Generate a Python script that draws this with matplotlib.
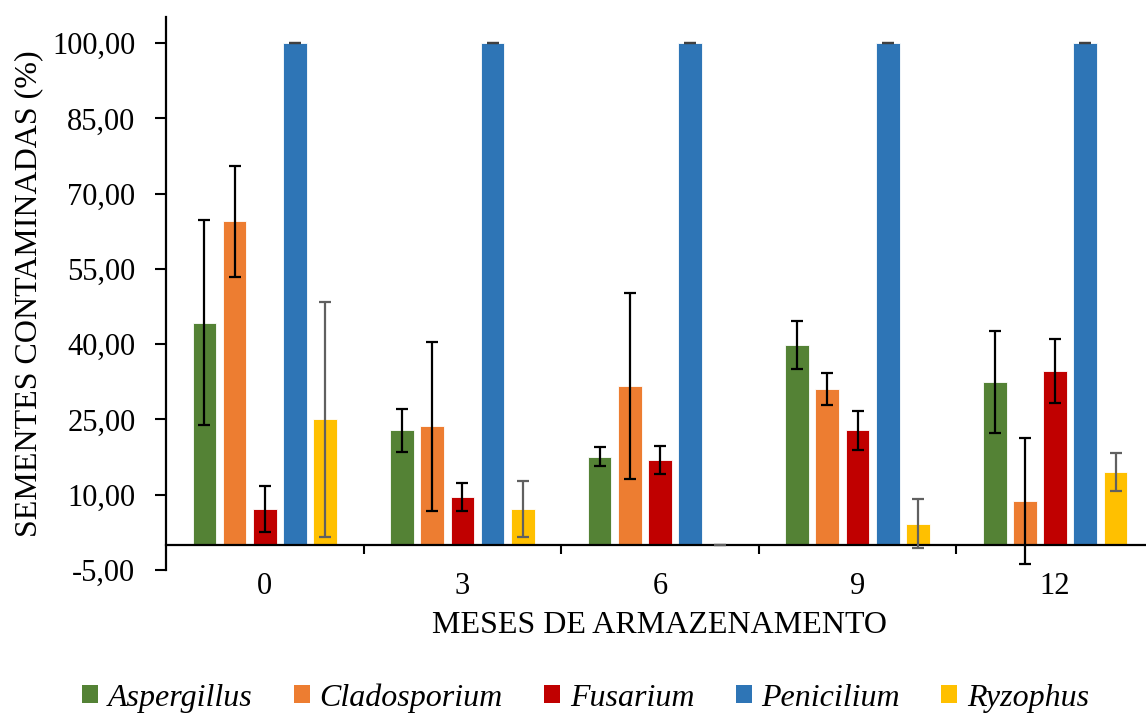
import matplotlib
matplotlib.use("Agg")
import matplotlib.pyplot as plt
import numpy as np
from matplotlib.ticker import FixedLocator, FuncFormatter
from matplotlib.patches import Patch

plt.rcParams['font.family'] = ['Liberation Serif', 'DejaVu Serif']

# Datos
meses = ["0", "3", "6", "9", "12"]
especies = ["Aspergillus", "Cladosporium", "Fusarium", "Penicilium", "Ryzophus"]

aspergillus = [44.3, 22.8, 17.6, 39.9, 32.5]
cladosporium = [64.5, 23.6, 31.7, 31.0, 8.7]
fusarium = [7.2, 9.5, 16.9, 22.8, 34.7]
penicilium = [100.0, 100.0, 100.0, 100.0, 100.0]
ryzophus = [25.0, 7.2, 0.0, 4.2, 14.6]

err_aspergillus = [20.5, 4.3, 1.9, 4.8, 10.1]
err_cladosporium = [11.1, 16.9, 18.5, 3.2, 12.6]
err_fusarium = [4.6, 2.8, 2.8, 3.8, 6.4]
err_penicilium = [0.0, 0.0, 0.0, 0.0, 0.0]
err_ryzophus = [23.4, 5.6, 0.0, 4.9, 3.8]

valores = [aspergillus, cladosporium, fusarium, penicilium, ryzophus]
errores = [err_aspergillus, err_cladosporium, err_fusarium, err_penicilium, err_ryzophus]
colores = ["#548235", "#ED7D31", "#C00000", "#2E75B6", "#FFC000"]
colores_err = ["black", "black", "black", "#404040", "#606060"]

fig = plt.figure(figsize=(11.46, 7.15), dpi=100)
ax = fig.add_axes([0.1449, 0.2028, 0.862, 0.7734])

x = np.arange(len(meses))
paso = 0.153
ancho = 0.12
for i, (vals, errs) in enumerate(zip(valores, errores)):
    pos = x + (i - 2) * paso
    ax.bar(pos, vals, width=ancho, color=colores[i], edgecolor="white",
           linewidth=0.6, zorder=2)
    ax.errorbar(pos, vals, yerr=errs, fmt="none", ecolor=colores_err[i],
                elinewidth=1.6, capsize=4.4, capthick=1.6, zorder=3)

ax.set_xlim(-0.5, len(meses) - 0.5)
ax.set_ylim(-5, 105.2)

# Eje Y
ax.set_yticks(np.arange(-5, 101, 15))
ax.yaxis.set_major_formatter(FuncFormatter(lambda v, p: f"{v:.2f}".replace(".", ",")))
ax.tick_params(axis="y", direction="out", length=8, width=1.5, pad=14, labelsize=22)

# Eje X en cero
ax.spines["bottom"].set_position(("data", 0))
ax.spines["top"].set_visible(False)
ax.spines["right"].set_visible(False)
ax.spines["left"].set_linewidth(1.6)
ax.spines["bottom"].set_linewidth(1.6)
ax.set_xticks(x)
ax.set_xticklabels(meses)
ax.xaxis.set_minor_locator(FixedLocator(x[:-1] + 0.5))
ax.tick_params(axis="x", which="major", length=0, pad=19.5, labelsize=22)
ax.tick_params(axis="x", which="minor", direction="out", length=6.5, width=1.5)

ax.set_xlabel("MESES DE ARMAZENAMENTO", fontsize=23)
ax.xaxis.set_label_coords(0.5, -0.075)
fig.text(29 / 1146, 1 - 294 / 715, "SEMENTES CONTAMINADAS (%)", rotation=90,
         ha="center", va="center", fontsize=23)

handles = [Patch(facecolor=c) for c in colores]
fig.legend(handles, especies, loc="center", bbox_to_anchor=(0.511, 0.024),
           ncol=5, frameon=False, handlelength=0.5, handleheight=0.5,
           handletextpad=0.3, columnspacing=1.3,
           prop={"size": 23, "style": "italic"})

plt.savefig("out.png", dpi=100)
